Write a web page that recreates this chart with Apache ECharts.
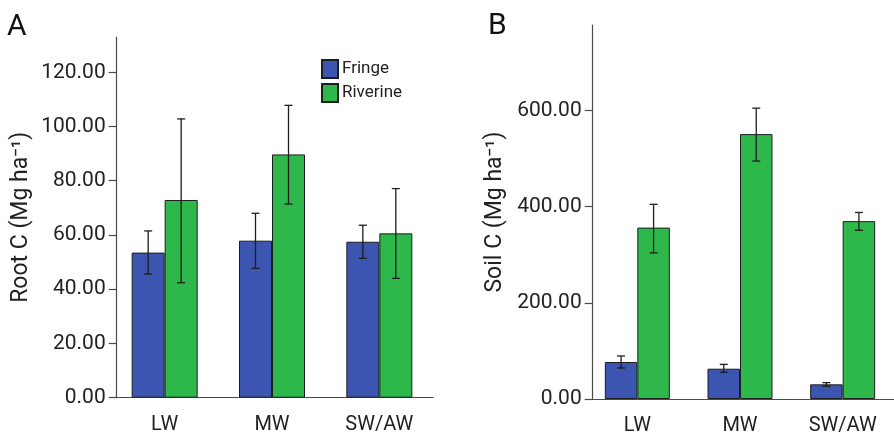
<!DOCTYPE html>
<html>
<head>
<meta charset="utf-8">
<script src="https://cdn.jsdelivr.net/npm/echarts@6/dist/echarts.min.js"></script>
<style>html,body{margin:0;padding:0;background:#fff}#c{width:894px;height:441px}</style>
</head>
<body>
<div id="c"></div>
<script>
const categories = ['LW', 'MW', 'SW/AW'];
const seriesNames = ['Fringe', 'Riverine'];

// Panel A: Root C
const rootFringe = [53.5, 57.9, 57.5];
const rootFringeLow = [45.6, 47.7, 51.4];
const rootFringeHigh = [61.5, 68.0, 63.6];
const rootRiverine = [72.9, 89.7, 60.6];
const rootRiverineLow = [42.4, 71.4, 44.0];
const rootRiverineHigh = [102.8, 107.8, 77.1];
const rootTicks = [0, 20, 40, 60, 80, 100, 120];
const rootMax = 133;

// Panel B: Soil C
const soilFringe = [77, 63, 30.5];
const soilFringeLow = [64.5, 55.5, 26.5];
const soilFringeHigh = [89.5, 72, 34];
const soilRiverine = [356.5, 551, 370];
const soilRiverineLow = [304, 495, 351];
const soilRiverineHigh = [405, 605, 388];
const soilTicks = [0, 200, 400, 600];
const soilMax = 778;

const BLUE = '#3b55b0';
const GREEN = '#2eb84b';
const FONT = 'Roboto';

function errSeries(axisIdx, lows, highs, offset) {
  return {
    type: 'custom',
    xAxisIndex: axisIdx, yAxisIndex: axisIdx,
    z: 5,
    silent: true,
    data: categories.map((c, i) => [i, lows[i], highs[i]]),
    renderItem: function (params, api) {
      const i = api.value(0);
      const x = api.coord([i, 0])[0] + offset;
      const yl = api.coord([i, api.value(1)])[1];
      const yh = api.coord([i, api.value(2)])[1];
      const st = { stroke: '#1e1e1e', lineWidth: 1.3 };
      return {
        type: 'group',
        children: [
          { type: 'line', shape: { x1: x, y1: yl, x2: x, y2: yh }, style: st },
          { type: 'line', shape: { x1: x - 4, y1: yl, x2: x + 4, y2: yl }, style: st },
          { type: 'line', shape: { x1: x - 4, y1: yh, x2: x + 4, y2: yh }, style: st }
        ]
      };
    }
  };
}

function barSeries(axisIdx, name, data, color, bw) {
  return {
    type: 'bar', name: name,
    xAxisIndex: axisIdx, yAxisIndex: axisIdx,
    data: data, barWidth: bw, barGap: '0%',
    itemStyle: { color: color, borderColor: '#1e1e1e', borderWidth: 1 }
  };
}

function xAxisDef(gridIdx) {
  return {
    type: 'category', gridIndex: gridIdx, data: categories,
    axisLine: { lineStyle: { color: '#4a4a4a', width: 1.2 } },
    axisTick: { alignWithLabel: true, length: 10, lineStyle: { color: '#2a2a2a', width: 1.2 } },
    axisLabel: { fontFamily: FONT, fontSize: 20, color: '#222', margin: 17 }
  };
}

function yAxisDef(gridIdx, max, ticks, name, offset, nameGap) {
  return {
    type: 'value', gridIndex: gridIdx, min: 0, max: max, offset: offset,
    name: name, nameLocation: 'middle', nameGap: nameGap,
    nameTextStyle: { fontFamily: FONT, fontSize: 23, color: '#222' },
    splitLine: { show: false },
    axisLine: { show: true, lineStyle: { color: '#4a4a4a', width: 1.2 } },
    axisTick: { show: true, length: 8, customValues: ticks, lineStyle: { color: '#4a4a4a', width: 1.2 } },
    axisLabel: {
      customValues: ticks, fontFamily: FONT, fontSize: 21, color: '#222', margin: 11,
      formatter: v => Number(v).toFixed(2)
    }
  };
}

const chart = echarts.init(document.getElementById('c'), null, { renderer: 'canvas' });
chart.setOption({
  animation: false,
  backgroundColor: '#fff',
  title: [
    { text: 'A', left: 7, top: 12, padding: 0, textStyle: { fontFamily: FONT, fontSize: 30, fontWeight: 'normal', color: '#111' } },
    { text: 'B', left: 488, top: 11, padding: 0, textStyle: { fontFamily: FONT, fontSize: 30, fontWeight: 'normal', color: '#111' } }
  ],
  legend: {
    data: seriesNames, orient: 'vertical', left: 321, top: 59, padding: 0,
    icon: 'rect',
    itemWidth: 16, itemHeight: 18, itemGap: 4,
    textStyle: { fontFamily: FONT, fontSize: 17, color: '#222', padding: [0, 0, 0, -1] }
  },
  grid: [
    { left: 111, width: 322, top: 37, height: 360.7 },
    { left: 586, width: 318, top: 25, height: 374 }
  ],
  xAxis: [xAxisDef(0), xAxisDef(1)],
  yAxis: [
    yAxisDef(0, rootMax, rootTicks, 'Root C (Mg ha\u207B\u00B9)', -5.7, 84),
    yAxisDef(1, soilMax, soilTicks, 'Soil C (Mg ha\u207B\u00B9)', -6.7, 86)
  ],
  series: [
    barSeries(0, 'Fringe', rootFringe, BLUE, 33),
    barSeries(0, 'Riverine', rootRiverine, GREEN, 33),
    errSeries(0, rootFringeLow, rootFringeHigh, -16.5),
    errSeries(0, rootRiverineLow, rootRiverineHigh, 16.5),
    barSeries(1, 'Fringe', soilFringe, BLUE, 32.5),
    barSeries(1, 'Riverine', soilRiverine, GREEN, 32.5),
    errSeries(1, soilFringeLow, soilFringeHigh, -16.25),
    errSeries(1, soilRiverineLow, soilRiverineHigh, 16.25)
  ]
});
</script>
</body>
</html>
